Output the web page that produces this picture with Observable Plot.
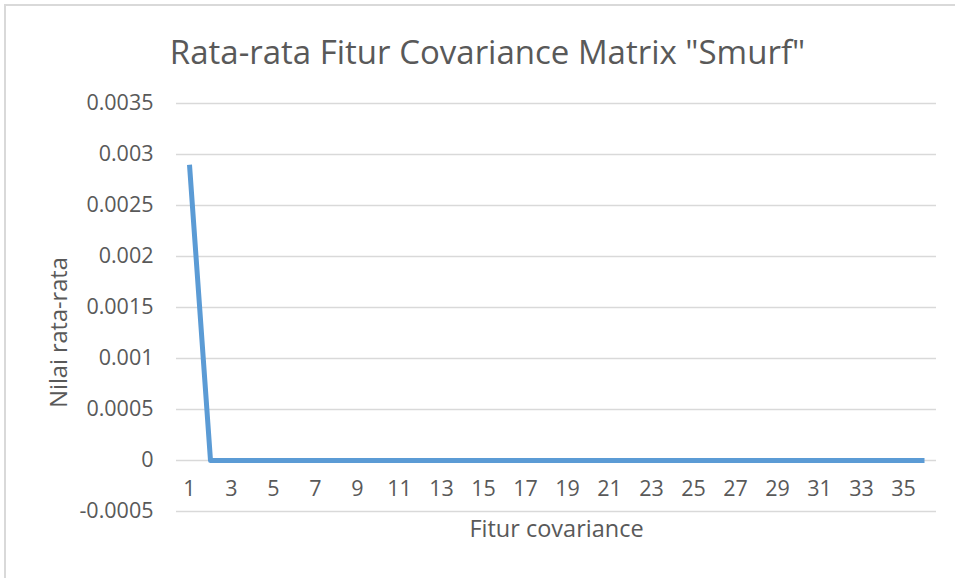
<!DOCTYPE html>
<html>
<head>
<meta charset="utf-8">
<script src="https://cdn.jsdelivr.net/npm/d3@7"></script>
<script src="https://cdn.jsdelivr.net/npm/@observablehq/plot@0.6"></script>
<style>
  html, body { margin: 0; padding: 0; background: #fff; }
  #wrap { position: relative; width: 955px; height: 578px; overflow: hidden; background: #fff; font-family: "Open Sans", sans-serif; color: #595959; }
  #frame { position: absolute; left: 4px; top: 4px; width: 1200px; height: 1200px; border: 2px solid #D9D9D9; box-sizing: border-box; }
  #title { position: absolute; left: 0; top: 30px; width: 975px; text-align: center; font-size: 33px; line-height: 44px; color: #595959; white-space: nowrap; }
  #chart { position: absolute; left: 0; top: 85px; }
</style>
</head>
<body>
<div id="wrap">
  <div id="frame"></div>
  <div id="title">Rata-rata Fitur Covariance Matrix "Smurf"</div>
  <div id="chart"></div>
</div>
<script>
const titleText = 'Rata-rata Fitur Covariance Matrix "Smurf"';
const xLabel = "Fitur covariance";
const yLabel = "Nilai rata-rata";
const features = [1,2,3,4,5,6,7,8,9,10,11,12,13,14,15,16,17,18,19,20,21,22,23,24,25,26,27,28,29,30,31,32,33,34,35,36];
const values = [0.0029,0,0,0,0,0,0,0,0,0,0,0,0,0,0,0,0,0,0,0,0,0,0,0,0,0,0,0,0,0,0,0,0,0,0,0];
const xTicks = [1,3,5,7,9,11,13,15,17,19,21,23,25,27,29,31,33,35];
const yTicks = [-0.0005,0,0.0005,0.001,0.0015,0.002,0.0025,0.003,0.0035];

const data = features.map((f, i) => ({feature: f, value: values[i]}));
const fmt = d => String(+d.toFixed(4));

const plot = Plot.plot({
  width: 955,
  height: 493,
  marginTop: 18,
  marginBottom: 67,
  marginLeft: 176,
  marginRight: 19,
  style: {fontFamily: "Open Sans, sans-serif", fontSize: "21px", color: "#595959", background: "transparent", overflow: "visible"},
  x: {type: "point", domain: features, padding: 0.5, align: 0.5},
  y: {domain: [-0.0005, 0.0035]},
  marks: [
    Plot.gridY(yTicks, {stroke: "#D9D9D9", strokeOpacity: 1, strokeWidth: 1.5}),
    Plot.axisY(yTicks, {anchor: "left", tickSize: 0, tickPadding: 23, tickFormat: fmt, fill: "#595959", fontSize: 21.5, label: null}),
    Plot.axisX(xTicks, {anchor: "bottom", tickSize: 0, tickPadding: 0, dy: -31, fill: "#595959", fontSize: 21.5, label: null}),
    Plot.line(data, {x: "feature", y: "value", stroke: "#5B9BD5", strokeWidth: 5, strokeLinejoin: "round", strokeLinecap: "butt"}),
    Plot.text([xLabel], {frameAnchor: "bottom", dy: 18, lineAnchor: "middle", fill: "#595959", fontSize: 23.5}),
    Plot.text([yLabel], {frameAnchor: "left", rotate: -90, dx: -117, dy: 25, lineAnchor: "middle", textAnchor: "middle", fill: "#595959", fontSize: 23.5})
  ]
});
document.getElementById("chart").appendChild(plot);
</script>
</body>
</html>
